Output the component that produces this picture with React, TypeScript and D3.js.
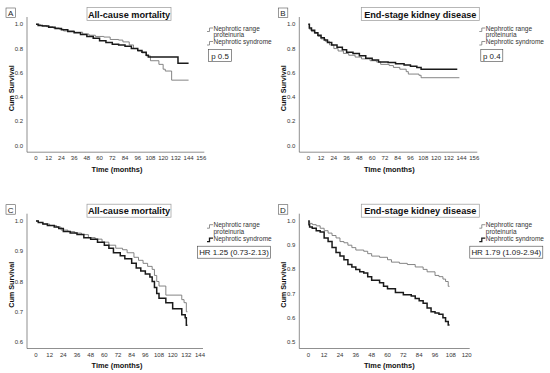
import * as d3 from 'd3';

// [month, cumulative survival] step points
const aNephroticRange: [number, number][] = [
  [0, 1], [4, 0.99], [10, 0.98], [16, 0.97], [22, 0.96], [26, 0.945], [36, 0.935], [44, 0.92],
  [50, 0.91], [56, 0.9], [64, 0.895], [70, 0.875], [78, 0.87], [82, 0.855], [88, 0.83], [92, 0.8],
  [96, 0.78], [100, 0.765], [104, 0.74], [108, 0.7], [116, 0.67], [120, 0.63], [122, 0.615],
  [128, 0.54], [144, 0.54],
];
const aNephroticSyndrome: [number, number][] = [
  [0, 1], [2, 0.99], [6, 0.985], [12, 0.975], [18, 0.965], [24, 0.955], [30, 0.94], [36, 0.93],
  [42, 0.915], [48, 0.9], [54, 0.885], [60, 0.865], [66, 0.85], [72, 0.835], [78, 0.83], [84, 0.82],
  [90, 0.8], [96, 0.785], [100, 0.77], [104, 0.745], [106, 0.73], [134, 0.68], [144, 0.68],
];
const bNephroticRange: [number, number][] = [
  [0, 1], [1, 0.96], [3, 0.94], [6, 0.925], [9, 0.9], [12, 0.88], [16, 0.86], [20, 0.83], [24, 0.8],
  [28, 0.78], [33, 0.76], [38, 0.745], [44, 0.73], [50, 0.715], [58, 0.7], [64, 0.69], [68, 0.67],
  [76, 0.66], [80, 0.645], [86, 0.63], [92, 0.61], [94, 0.59], [104, 0.58], [106, 0.56], [142, 0.56],
];
const bNephroticSyndrome: [number, number][] = [
  [0, 1], [1, 0.97], [3, 0.95], [6, 0.93], [9, 0.91], [12, 0.89], [15, 0.87], [18, 0.85], [22, 0.83],
  [27, 0.81], [32, 0.79], [36, 0.77], [42, 0.76], [48, 0.74], [54, 0.72], [60, 0.705], [66, 0.69],
  [75, 0.685], [82, 0.675], [90, 0.665], [96, 0.655], [102, 0.645], [106, 0.63], [140, 0.63],
];
const cNephroticRange: [number, number][] = [
  [0, 1], [2, 0.995], [6, 0.99], [12, 0.985], [18, 0.98], [22, 0.97], [28, 0.965], [34, 0.96],
  [40, 0.955], [46, 0.945], [52, 0.94], [58, 0.93], [64, 0.92], [70, 0.91], [76, 0.905], [80, 0.895],
  [86, 0.88], [90, 0.87], [94, 0.86], [98, 0.85], [102, 0.84], [104, 0.82], [106, 0.8], [108, 0.785],
  [114, 0.755], [128, 0.74], [130, 0.73], [132, 0.7], [133, 0.7],
];
const cNephroticSyndrome: [number, number][] = [
  [0, 1], [2, 0.995], [6, 0.99], [10, 0.985], [16, 0.98], [20, 0.975], [24, 0.965], [30, 0.96],
  [36, 0.955], [42, 0.945], [48, 0.94], [54, 0.93], [60, 0.92], [64, 0.91], [68, 0.895], [74, 0.885],
  [78, 0.875], [84, 0.86], [88, 0.845], [92, 0.835], [96, 0.825], [100, 0.815], [102, 0.8],
  [104, 0.78], [106, 0.76], [108, 0.745], [114, 0.73], [120, 0.71], [128, 0.69], [131, 0.68],
  [132, 0.655], [133, 0.655],
];
const dNephroticRange: [number, number][] = [
  [0, 1], [1, 0.99], [3, 0.985], [6, 0.98], [9, 0.97], [12, 0.96], [15, 0.95], [18, 0.94], [21, 0.93],
  [24, 0.915], [27, 0.91], [30, 0.9], [33, 0.89], [36, 0.88], [42, 0.875], [45, 0.865], [48, 0.855],
  [54, 0.85], [60, 0.84], [63, 0.83], [69, 0.825], [75, 0.82], [81, 0.81], [87, 0.8], [90, 0.79],
  [96, 0.775], [99, 0.77], [102, 0.76], [104, 0.75], [106, 0.73], [107, 0.73],
];
const dNephroticSyndrome: [number, number][] = [
  [0, 1], [0.5, 0.985], [1, 0.975], [3, 0.97], [6, 0.96], [9, 0.955], [12, 0.93], [15, 0.915],
  [18, 0.89], [21, 0.87], [24, 0.855], [27, 0.84], [30, 0.82], [33, 0.81], [36, 0.8], [39, 0.79],
  [42, 0.785], [45, 0.77], [48, 0.755], [54, 0.745], [57, 0.73], [60, 0.72], [66, 0.705], [72, 0.695],
  [78, 0.69], [81, 0.68], [84, 0.67], [87, 0.66], [90, 0.64], [93, 0.625], [96, 0.62], [99, 0.615],
  [102, 0.6], [104, 0.585], [106, 0.57], [107, 0.57],
];

const seriesNames = ['Nephrotic range', 'proteinuria', 'Nephrotic syndrome'];
const panelLetters = ['A', 'B', 'C', 'D'];
const panelTitles = ['All-cause mortality', 'End-stage kidney disease', 'All-cause mortality', 'End-stage kidney disease'];
const panelNotes = ['p 0.5', 'p 0.4', 'HR 1.25 (0.73-2.13)', 'HR 1.79 (1.09-2.94)'];
const xMaxes = [156, 156, 144, 120];
const yMins = [0, 0, 0.6, 0.5];
const yStep = [0.2, 0.2, 0.1, 0.1];

const FONT = '"Liberation Sans", Arial, sans-serif';

interface PanelProps {
  idx: number;
  ox: number;
  oy: number;
  xEnd: number;
  yBottom: number;
  gray: [number, number][];
  black: [number, number][];
  noteW: number;
}

function Panel({ idx, ox, oy, xEnd, yBottom, gray, black, noteW }: PanelProps) {
  const x = d3.scaleLinear().domain([0, xMaxes[idx]]).range([ox + 36, ox + xEnd]);
  const y = d3.scaleLinear().domain([yMins[idx], 1]).range([oy + yBottom, oy + 24.3]);
  const line = d3
    .line<[number, number]>()
    .x((d) => x(d[0]))
    .y((d) => y(d[1]))
    .curve(d3.curveStepAfter);
  const xTicks = d3.range(0, xMaxes[idx] + 1, 12);
  const yTicks = d3.range(yMins[idx], 1.0001, yStep[idx]);
  const axisX = ox + 27;
  const axisY = oy + yBottom + 6.5;
  const top = oy + 17;
  const lx = ox + 207;
  const titleW = idx % 2 === 0 ? 84 : 118;
  const titleX = ox + (idx % 2 === 0 ? 87 : 89);

  return (
    <g>
      <rect x={ox + 6} y={oy + 8} width={9.5} height={9.5} fill="white" stroke="#555" strokeWidth={0.6} />
      <text x={ox + 10.7} y={oy + 15.8} fontSize={8} textAnchor="middle" fontFamily={FONT} fill="#222">
        {panelLetters[idx]}
      </text>
      <rect x={titleX} y={oy + 7.5} width={titleW} height={13} fill="white" stroke="#999" strokeWidth={0.7} />
      <text x={titleX + titleW / 2} y={oy + 17.6} fontSize={9.2} fontWeight="bold" textAnchor="middle" fontFamily={FONT} fill="#111">
        {panelTitles[idx]}
      </text>

      <line x1={axisX} x2={axisX} y1={top} y2={axisY} stroke="#444" strokeWidth={0.6} />
      <line x1={axisX} x2={x(xMaxes[idx]) + 3} y1={axisY} y2={axisY} stroke="#444" strokeWidth={0.6} />
      {yTicks.map((t) => (
        <text key={t} x={axisX - 4} y={y(t) + 2} fontSize={6} textAnchor="end" fontFamily={FONT} fill="#333">
          {t.toFixed(1)}
        </text>
      ))}
      {xTicks.map((t) => (
        <text key={t} x={x(t)} y={axisY + 8} fontSize={6} textAnchor="middle" fontFamily={FONT} fill="#333">
          {t}
        </text>
      ))}
      <text x={ox + 117} y={axisY + 19.5} fontSize={7.4} fontWeight="bold" textAnchor="middle" fontFamily={FONT} fill="#111">
        Time (months)
      </text>
      <text
        transform={`translate(${ox + 13.5},${(oy + 24.3 + axisY) / 2}) rotate(-90)`}
        fontSize={7.2}
        fontWeight="bold"
        textAnchor="middle"
        fontFamily={FONT}
        fill="#111"
      >
        Cum Survival
      </text>

      <path d={line(gray) ?? ''} fill="none" stroke="#777" strokeWidth={0.9} />
      <path d={line(black) ?? ''} fill="none" stroke="#1a1a1a" strokeWidth={1.5} />

      <path d={`M${lx},${oy + 31.5} h2.5 v-3.5 h3.5`} fill="none" stroke="#777" strokeWidth={0.8} />
      <text x={lx + 6.5} y={oy + 30.5} fontSize={6.5} fontFamily={FONT} fill="#333">{seriesNames[0]}</text>
      <text x={lx + 6.5} y={oy + 37} fontSize={6.5} fontFamily={FONT} fill="#333">{seriesNames[1]}</text>
      <path d={`M${lx},${oy + 45} h2.5 v-3.5 h3.5`} fill="none" stroke={idx < 2 ? '#777' : '#1a1a1a'} strokeWidth={idx < 2 ? 0.8 : 1.3} />
      <text x={lx + 6.5} y={oy + 44} fontSize={6.5} fontFamily={FONT} fill="#333">{seriesNames[2]}</text>

      <rect x={ox + (idx < 2 ? 208.5 : 197.5)} y={oy + 49.5} width={noteW} height={12} fill="white" stroke="#444" strokeWidth={0.6} />
      <text x={ox + (idx < 2 ? 208.5 : 197.5) + noteW / 2} y={oy + 58.5} fontSize={7.9} textAnchor="middle" fontFamily={FONT} fill="#222">
        {panelNotes[idx]}
      </text>
    </g>
  );
}

export default function App() {
  return (
    <svg width={550} height={373} style={{ position: 'absolute', left: 0, top: 0, background: 'white' }}>
      <rect width={550} height={373} fill="white" />
      <Panel idx={0} ox={0} oy={0} xEnd={201.3} yBottom={145.7} gray={aNephroticRange} black={aNephroticSyndrome} noteW={23} />
      <Panel idx={1} ox={272.3} oy={0} xEnd={202} yBottom={145.7} gray={bNephroticRange} black={bNephroticSyndrome} noteW={22} />
      <Panel idx={2} ox={0} oy={196.7} xEnd={200} yBottom={145.3} gray={cNephroticRange} black={cNephroticSyndrome} noteW={73} />
      <Panel idx={3} ox={272.3} oy={196.7} xEnd={194.4} yBottom={145.3} gray={dNephroticRange} black={dNephroticSyndrome} noteW={73} />
    </svg>
  );
}
